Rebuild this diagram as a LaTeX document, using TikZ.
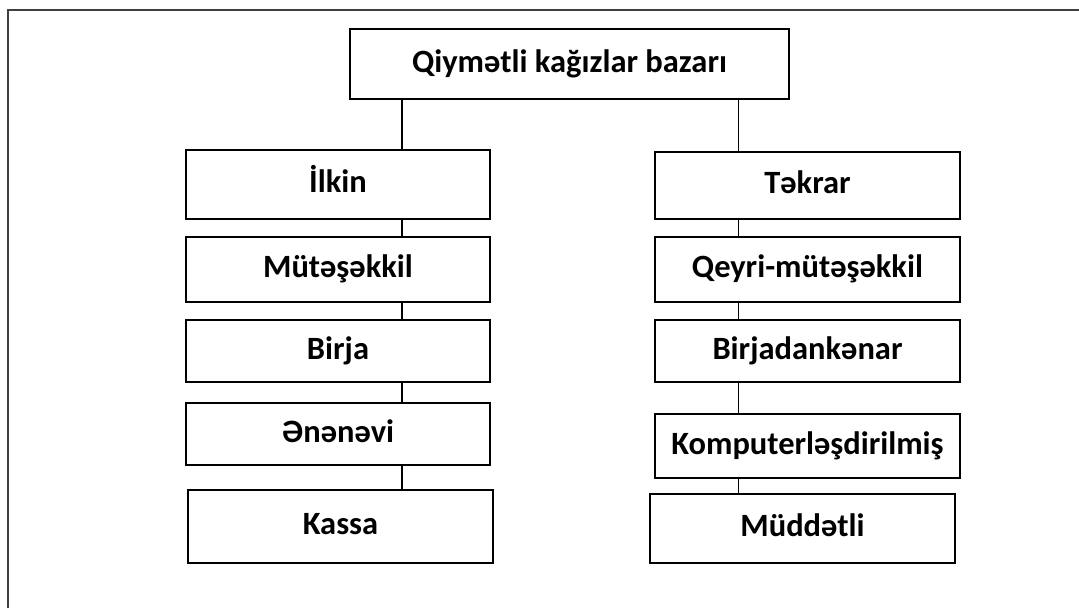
\documentclass[tikz,border=0pt]{standalone}
\usepackage{fontspec}
\setmainfont{Carlito}
\begin{document}
\begin{tikzpicture}[x=1pt,y=-1pt,
  box/.style={draw=black, line width=1.1pt, inner sep=0pt, font=\fontsize{32.5}{38}\selectfont\bfseries,
    text height=21pt, text depth=4.5pt, align=center},
  conn/.style={draw=black, line width=1.2pt},
  frameline/.style={draw=black!75, line width=1.8pt}]
\useasboundingbox (0,0) rectangle (1079,608);
\coordinate (fo) at (8,10);
\coordinate (fr) at (1079,10);
\coordinate (fb) at (8,608);
\draw[frameline] (fb) -- (fo) -- (fr);
\coordinate (L) at (402,0);
\coordinate (R) at (738.5,0);
\node[box, minimum width=439pt, minimum height=70pt] (top) at (569.5,64) {Qiymətli kağızlar bazarı};
% left column
\node[box, minimum width=304pt, minimum height=69pt] (l1) at (338,184.5) {İlkin};
\node[box, minimum width=304pt, minimum height=65pt] (l2) at (338,269.5) {Mütəşəkkil};
\node[box, minimum width=304pt, minimum height=62pt] (l3) at (338,351) {Birja};
\node[box, minimum width=304pt, minimum height=62pt] (l4) at (338,434) {Ənənəvi};
\node[box, minimum width=305pt, minimum height=73pt] (l5) at (340.5,526.5) {Kassa};
% right column
\node[box, minimum width=305pt, minimum height=67pt] (r1) at (807.5,185.5) {Təkrar};
\node[box, minimum width=305pt, minimum height=65pt] (r2) at (807.5,269.5) {Qeyri-mütəşəkkil};
\node[box, minimum width=305pt, minimum height=62pt] (r3) at (807.5,351) {Birjadankənar};
\node[box, minimum width=305pt, minimum height=64pt] (r4) at (807.5,446) {Komputerləşdirilmiş};
\node[box, minimum width=305pt, minimum height=69pt] (r5) at (802.5,528.5) {Müddətli};
% connectors
\draw[conn] (top.south -| L) -- (l1.north -| L);
\draw[conn] (l1.south -| L) -- (l2.north -| L);
\draw[conn] (l2.south -| L) -- (l3.north -| L);
\draw[conn] (l3.south -| L) -- (l4.north -| L);
\draw[conn] (l4.south -| L) -- (l5.north -| L);
\draw[conn] (top.south -| R) -- (r1.north -| R);
\draw[conn] (r1.south -| R) -- (r2.north -| R);
\draw[conn] (r2.south -| R) -- (r3.north -| R);
\draw[conn] (r3.south -| R) -- (r4.north -| R);
\draw[conn] (r4.south -| R) -- (r5.north -| R);
\end{tikzpicture}
\end{document}
